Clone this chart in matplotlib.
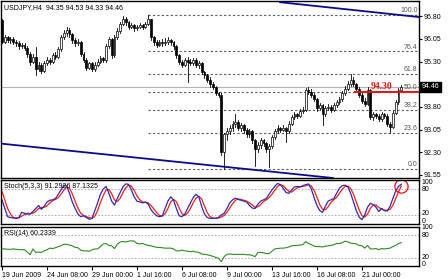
import matplotlib as mpl
import matplotlib.pyplot as plt

mpl.rcParams['font.family'] = ['Liberation Sans', 'DejaVu Sans']

# USDJPY H4 candles (closes, highs, lows)
close = [95.95, 96.10, 96.00, 96.05, 95.95, 95.90, 95.80, 95.85, 95.75, 95.55,
         95.30, 95.45, 95.05, 95.20, 95.00, 95.25, 95.35, 95.30, 95.50, 95.45,
         95.70, 96.10, 96.25, 96.35, 96.20, 96.00, 95.90, 95.95, 95.55, 95.35,
         95.10, 95.25, 95.05, 95.20, 95.30, 95.40, 95.35, 95.80, 96.05, 95.50,
         96.10, 96.30, 96.55, 96.70, 96.60, 96.45, 96.50, 96.40, 96.45, 96.50,
         96.45, 96.55, 96.70, 96.10, 95.95, 95.85, 95.95, 95.90, 95.95, 96.00,
         95.95, 95.80, 95.50, 95.30, 95.20, 95.35, 95.30, 95.25, 95.35, 95.20,
         95.25, 94.95, 94.85, 94.70, 94.55, 94.45, 94.25, 94.20, 92.30, 92.90,
         93.00, 93.10, 93.25, 93.30, 93.10, 93.20, 93.05, 92.90, 93.00, 92.70,
         92.40, 92.55, 92.70, 92.60, 92.40, 92.50, 92.80, 93.00, 93.10, 93.05,
         93.10, 93.00, 93.25, 93.45, 93.55, 93.50, 93.65, 93.70, 94.35, 94.30,
         94.20, 94.05, 93.75, 93.85, 93.55, 93.75, 93.80, 93.70, 93.85, 93.95,
         94.05, 94.25, 94.40, 94.55, 94.70, 94.55, 94.40, 94.20, 94.00, 93.90,
         94.35, 93.45, 93.55, 93.50, 93.40, 93.55, 93.50, 93.25, 93.15, 93.60,
         93.95, 94.35, 94.46]
high = [96.72, 96.18, 96.15, 96.12, 96.10, 96.02, 95.98, 95.92, 95.90, 95.80,
        95.60, 95.55, 95.78, 95.30, 95.25, 95.32, 95.45, 95.42, 95.58, 95.60,
        95.78, 96.18, 96.35, 96.45, 96.40, 96.25, 96.08, 96.05, 95.98, 95.60,
        95.40, 95.30, 95.30, 95.28, 95.38, 95.48, 95.45, 95.88, 96.12, 96.08,
        96.18, 96.40, 96.62, 96.80, 96.78, 96.65, 96.58, 96.55, 96.52, 96.58,
        96.55, 96.62, 96.83, 96.72, 96.15, 96.00, 96.02, 96.05, 96.08, 96.10,
        96.05, 95.98, 95.85, 95.55, 95.35, 95.42, 95.45, 95.38, 95.42, 95.40,
        95.32, 95.28, 95.00, 94.90, 94.78, 94.62, 94.50, 94.30, 94.25, 92.95,
        93.10, 93.20, 93.35, 93.55, 93.38, 93.28, 93.25, 93.10, 93.08, 93.05,
        92.75, 92.65, 92.78, 92.75, 92.65, 92.58, 92.88, 93.08, 93.20, 93.15,
        93.20, 93.15, 93.32, 93.52, 93.62, 93.60, 93.72, 93.80, 94.42, 94.45,
        94.38, 94.25, 94.10, 93.92, 93.90, 93.82, 93.88, 93.85, 93.92, 94.02,
        94.12, 94.32, 94.48, 94.65, 94.90, 94.78, 94.60, 94.45, 94.25, 94.08,
        94.45, 94.40, 93.62, 93.60, 93.58, 93.62, 93.60, 93.55, 93.30, 93.68,
        94.02, 94.42, 94.53]
low = [95.90, 95.90, 95.95, 95.92, 95.88, 95.82, 95.72, 95.75, 95.68, 95.45,
       95.20, 95.25, 94.85, 95.00, 94.92, 94.95, 95.20, 95.22, 95.25, 95.38,
       95.40, 95.65, 96.05, 96.15, 96.12, 95.92, 95.82, 95.85, 95.48, 95.28,
       95.02, 95.05, 94.98, 95.00, 95.15, 95.25, 95.28, 95.30, 95.75, 95.40,
       95.45, 96.05, 96.25, 96.50, 96.52, 96.38, 96.40, 96.32, 96.35, 96.40,
       96.38, 96.40, 96.50, 96.00, 95.85, 95.78, 95.80, 95.82, 95.85, 95.88,
       95.85, 95.72, 95.42, 95.22, 95.12, 95.15, 94.62, 95.18, 95.20, 95.12,
       95.10, 94.88, 94.75, 94.62, 94.45, 94.38, 94.18, 94.12, 92.20, 91.75,
       92.70, 92.90, 93.00, 93.15, 93.02, 93.00, 92.95, 92.80, 92.82, 92.60,
       91.85, 92.30, 92.45, 92.50, 92.32, 91.80, 92.45, 92.75, 92.95, 92.98,
       93.00, 92.65, 92.95, 93.20, 93.40, 93.42, 93.45, 93.60, 93.65, 94.22,
       94.12, 93.98, 93.68, 93.70, 93.20, 93.50, 93.70, 93.62, 93.65, 93.80,
       93.90, 94.00, 94.20, 94.35, 94.50, 94.48, 94.32, 94.12, 93.92, 93.82,
       93.85, 93.40, 93.38, 93.42, 93.32, 93.35, 93.42, 93.18, 92.95, 93.10,
       93.55, 93.90, 94.33]
first_open = 96.67

# Stochastic (5,3,3): main (blue) and signal (red)
stoch_main = [55, 35, 16, 14, 13, 12, 14, 26, 24, 22,
              22, 28, 35, 42, 33, 40, 50, 54, 55, 58,
              68, 78, 89, 87, 70, 50, 35, 22, 16, 18,
              14, 10, 12, 30, 48, 68, 80, 86, 70, 52,
              43, 58, 72, 85, 92, 91, 78, 62, 52, 50,
              48, 50, 45, 32, 24, 18, 16, 18, 35, 52,
              62, 55, 35, 18, 16, 22, 35, 48, 60, 68,
              62, 40, 22, 14, 12, 12, 12, 14, 20, 24,
              35, 48, 55, 59, 56, 54, 52, 50, 42, 36,
              35, 45, 52, 55, 58, 68, 78, 86, 93, 90,
              82, 72, 70, 78, 85, 86, 85, 88, 90, 92,
              80, 60, 42, 30, 26, 40, 52, 55, 58, 70,
              82, 88, 89, 85, 70, 50, 30, 15, 9, 20,
              38, 47, 44, 38, 28, 35, 30, 29, 40, 58,
              75, 86, 91.29]
stoch_signal = [74, 55, 35, 22, 14, 13, 13, 17, 21, 24,
                23, 24, 28, 35, 37, 38, 41, 48, 53, 56,
                60, 68, 78, 85, 82, 69, 52, 36, 24, 19,
                16, 14, 12, 17, 30, 49, 65, 78, 79, 69,
                55, 51, 58, 72, 83, 89, 87, 77, 64, 55,
                50, 49, 48, 42, 34, 25, 19, 17, 23, 35,
                50, 56, 51, 36, 23, 19, 24, 35, 48, 59,
                63, 57, 41, 25, 16, 13, 12, 13, 15, 19,
                26, 36, 46, 54, 57, 56, 54, 52, 48, 43,
                38, 39, 44, 51, 55, 60, 68, 77, 86, 90,
                88, 81, 75, 73, 78, 83, 85, 86, 88, 90,
                87, 77, 61, 44, 33, 32, 39, 49, 55, 61,
                70, 80, 86, 87, 81, 68, 50, 32, 18, 15,
                22, 35, 43, 43, 37, 34, 31, 31, 33, 42,
                58, 73, 87.13]

# RSI(14)
rsi = [44, 44, 43, 43, 44, 43, 42, 42, 42, 36,
       29, 44, 35, 36, 35, 39, 42, 46, 45, 47,
       50, 52, 56, 56, 54, 52, 48, 47, 41, 39,
       39, 38, 42, 44, 44, 50, 57, 58, 53, 52,
       45, 56, 62, 63, 62, 64, 65, 64, 58, 57,
       58, 55, 53, 52, 50, 48, 48, 47, 46, 46,
       46, 44, 39, 39, 41, 39, 38, 37, 38, 36,
       35, 31, 30, 29, 27, 25, 22, 20, 11, 24,
       30, 31, 30, 30, 30, 30, 30, 29, 29, 27,
       24, 35, 35, 34, 32, 32, 38, 44, 45, 46,
       46, 47, 49, 52, 53, 53, 54, 55, 63, 58,
       55, 51, 50, 50, 49, 51, 52, 53, 55, 58,
       58, 60, 64, 62, 59, 58, 57, 53, 52, 46,
       53, 44, 44, 45, 42, 45, 44, 45, 46, 50,
       53, 58, 60.23]

price_ticks = [96.80, 96.05, 95.30, 94.55, 93.80, 93.05, 92.30, 91.55]
fib_levels = [0.0, 23.6, 38.2, 50.0, 61.8, 76.4, 100.0]
fib_low, fib_high, fib_start = 91.75, 96.83, 52
date_pos = [0, 16, 32, 48, 64, 80, 96, 112, 128]
date_labels = ['19 Jun 2009', '24 Jun 08:00', '29 Jun 00:00', '1 Jul 16:00', '6 Jul 08:00',
               '9 Jul 00:00', '13 Jul 16:00', '16 Jul 08:00', '21 Jul 00:00']
upper_trend = ([98.9, 148.3], [97.26, 96.77])
lower_trend = ([-0.7, 117.7], [92.59, 91.45])

n = len(close)
bars = list(range(n))
opens = [first_open] + close[:-1]

W, H = 448, 280
fig = plt.figure(figsize=(W / 100, H / 100), dpi=100)
fig.patch.set_facecolor('white')


def box(top, bottom):
    return [1 / W, (H - bottom) / H, 418 / W, (bottom - top) / H]


ax1 = fig.add_axes(box(1, 178))
ax2 = fig.add_axes(box(180, 224))
ax3 = fig.add_axes(box(227, 266))
xlim = (-0.36, 148.3)
for ax in (ax1, ax2, ax3):
    ax.set_xlim(*xlim)
    for s in ax.spines.values():
        s.set_linewidth(1.0)
        s.set_color('black')
    ax.tick_params(axis='x', length=0, labelbottom=False)

# ---- main price panel
ax1.set_ylim(91.45, 97.30)
ax1.axhline(close[-1], color='#b4b4b4', lw=0.8, zorder=1)

for lvl in fib_levels:
    p = fib_low + (fib_high - fib_low) * lvl / 100
    ax1.plot([fib_start, xlim[1]], [p, p], color='#4f5c5c', lw=0.8,
             ls=(0, (2, 2)), zorder=1)
    ax1.text(147.8, p + 0.03, '%.1f' % lvl, ha='right', va='bottom',
             fontsize=5, color='#555555', zorder=2)

ax1.plot(upper_trend[0], upper_trend[1], color='#0a0a8a', lw=1.3, zorder=3)
ax1.plot(lower_trend[0], lower_trend[1], color='#0a0a8a', lw=1.3, zorder=3)

for i in bars:
    o, c = opens[i], close[i]
    ax1.plot([i, i], [low[i], high[i]], color='black', lw=0.6, zorder=4)
    bot, top = min(o, c), max(o, c)
    if top - bot < 0.02:
        top = bot + 0.02
    fc = 'white' if c >= o else 'black'
    ax1.bar(i, top - bot, bottom=bot, width=0.65, facecolor=fc,
            edgecolor='black', linewidth=0.5, zorder=5)

ax1.plot([125.5, xlim[1]], [94.30, 94.30], color='#ee1111', lw=1.4, zorder=6)
ax1.text(135.1, 94.33, '94.30', color='#ee1111', fontsize=7, fontweight='bold',
         family='Liberation Serif', ha='center', va='bottom', zorder=7)

ax1.yaxis.tick_right()
ax1.set_yticks(price_ticks)
ax1.set_yticklabels(['%.2f' % t for t in price_ticks])
ax1.tick_params(axis='y', length=2, labelsize=5, pad=1.5)
ax1.text(1.006, close[-1], '%.2f' % close[-1], transform=ax1.get_yaxis_transform(),
         color='white', fontsize=5, va='center', ha='left',
         bbox=dict(facecolor='black', edgecolor='black', pad=1.0), zorder=10,
         clip_on=False)
ax1.text(0.006, 0.985, 'USDJPY,H4  94.35 94.53 94.33 94.46', transform=ax1.transAxes,
         fontsize=5, va='top', ha='left')

# ---- stochastic panel
ax2.set_ylim(-1, 101)
ax2.set_yticks([])
for lvl in (80, 20):
    ax2.axhline(lvl, color='#a0a0a0', lw=0.6, ls=(0, (2, 2)))
ax2.plot(bars, stoch_signal, color='#ff1a1a', lw=0.9)
ax2.plot(bars, stoch_main, color='#2b2bb0', lw=0.9)
ax2.plot([141.9], [87], marker='o', ms=9.5, mfc='none', mec='#ee1111', mew=0.9)
tr2 = ax2.get_yaxis_transform()
for lab, y in (('100', 96), ('80', 78), ('20', 23), ('0', 5)):
    ax2.text(1.006, y, lab, transform=tr2, fontsize=5, va='center', ha='left')
ax2.text(0.006, 0.93, 'Stoch(5,3,3) 91.2926 87.1325', transform=ax2.transAxes,
         fontsize=5, va='top', ha='left')

# ---- RSI panel
ax3.set_ylim(0, 100.5)
ax3.set_yticks([])
for lvl in (80, 20):
    ax3.axhline(lvl, color='#a0a0a0', lw=0.6, ls=(0, (2, 2)))
ax3.plot(bars, rsi, color='#2e8b22', lw=0.8)
tr3 = ax3.get_yaxis_transform()
for lab, y in (('100', 98), ('80', 78), ('20', 23), ('0', 3)):
    ax3.text(1.006, y, lab, transform=tr3, fontsize=5, va='center', ha='left')
ax3.text(0.006, 0.93, 'RSI(14) 60.2339', transform=ax3.transAxes,
         fontsize=5, va='top', ha='left')

ax3.set_xticks(date_pos)
ax3.set_xticklabels(date_labels, ha='left')
ax3.tick_params(axis='x', length=3, width=0.8, labelbottom=True, labelsize=5, pad=1)

fig.savefig('out.png', dpi=100)
